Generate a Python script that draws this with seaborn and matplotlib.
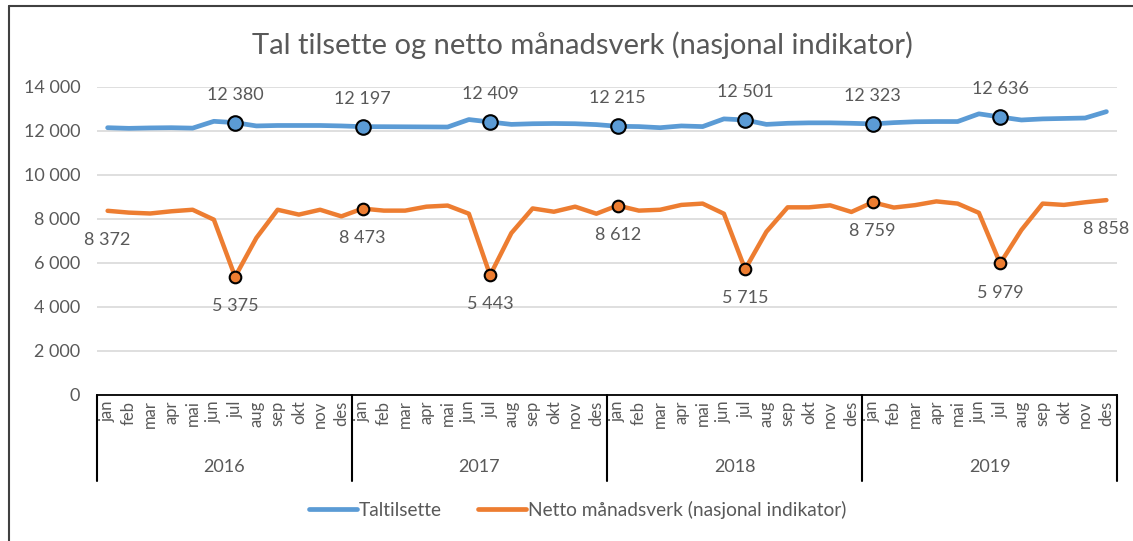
import matplotlib
matplotlib.use('Agg')
import matplotlib.pyplot as plt
import seaborn as sns
import pandas as pd
from matplotlib.lines import Line2D


years = ['2016', '2017', '2018', '2019']
months = ['jan', 'feb', 'mar', 'apr', 'mai', 'jun', 'jul', 'aug', 'sep', 'okt', 'nov', 'des']

taltilsette = [12150, 12120, 12140, 12150, 12130, 12440, 12380, 12230, 12250, 12250, 12250, 12230,
               12197, 12195, 12190, 12185, 12180, 12520, 12409, 12300, 12330, 12340, 12330, 12290,
               12215, 12200, 12150, 12230, 12200, 12550, 12501, 12300, 12350, 12370, 12370, 12350,
               12323, 12380, 12420, 12430, 12430, 12780, 12636, 12500, 12550, 12570, 12590, 12880]

netto = [8372, 8290, 8250, 8350, 8420, 7970, 5375, 7140, 8420, 8200, 8420, 8120,
         8473, 8380, 8380, 8560, 8610, 8240, 5443, 7360, 8480, 8330, 8560, 8240,
         8612, 8380, 8420, 8640, 8700, 8240, 5715, 7420, 8530, 8530, 8620, 8320,
         8759, 8520, 8630, 8800, 8700, 8280, 5979, 7500, 8700, 8640, 8760, 8858]

# which points get a marker / a data label
blue_marked = [6, 12, 18, 24, 30, 36, 42]
orange_marked = [6, 12, 18, 24, 30, 36, 42]
orange_labelled = [0, 6, 12, 18, 24, 30, 36, 42, 47]

blue = '#5B9BD5'
orange = '#ED7D31'
grey_text = '#595959'

n = len(years) * len(months)
df = pd.DataFrame({
    'idx': list(range(n)),
    'Taltilsette': taltilsette,
    'Netto': netto,
})

sns.set_style('white')
plt.rcParams['font.family'] = ['Lato', 'DejaVu Sans']

fig = plt.figure(figsize=(11.33, 5.41), dpi=100)
ax = fig.add_axes([0.0856, 0.2699, 0.9003, 0.5693])

sns.lineplot(data=df, x='idx', y='Taltilsette', ax=ax, color=blue, linewidth=3.4)
sns.lineplot(data=df, x='idx', y='Netto', ax=ax, color=orange, linewidth=3.2)

sns.scatterplot(data=df.iloc[blue_marked], x='idx', y='Taltilsette', ax=ax, color=blue,
                s=110, edgecolor='black', linewidth=1.5, zorder=5)
sns.scatterplot(data=df.iloc[orange_marked], x='idx', y='Netto', ax=ax, color=orange,
                s=70, edgecolor='black', linewidth=1.5, zorder=5)


def fmt(v):
    return f'{v:,}'.replace(',', ' ')


for i in blue_marked:
    ax.annotate(fmt(taltilsette[i]), (i, taltilsette[i]), xytext=(0, 20), textcoords='offset points',
                ha='center', va='center', fontsize=13, color=grey_text)
for i in orange_labelled:
    ax.annotate(fmt(netto[i]), (i, netto[i]), xytext=(0, -21), textcoords='offset points',
                ha='center', va='center', fontsize=13, color=grey_text)

ax.set_xlim(-0.5, n - 0.5)
ax.set_ylim(0, 14000)
ax.set_yticks(range(0, 14001, 2000))
ax.set_yticklabels([fmt(v) for v in range(0, 14001, 2000)], fontsize=13, color=grey_text)
ax.tick_params(axis='y', length=0, pad=12)
ax.yaxis.grid(True, color='#d9d9d9', linewidth=1.2)
ax.set_axisbelow(True)

ax.set_xticks(range(n))
ax.set_xticklabels(months * len(years), rotation=90, fontsize=12, color=grey_text)
ax.tick_params(axis='x', length=0, pad=4)
ax.set_xlabel('')
ax.set_ylabel('')

for side in ['left', 'right', 'top']:
    ax.spines[side].set_visible(False)
ax.spines['bottom'].set_color('black')
ax.spines['bottom'].set_linewidth(1.3)

# multi-level category axis: year dividers and labels
trans = ax.get_xaxis_transform()
for b in range(len(years) + 1):
    x = b * 12 - 0.5
    ax.plot([x, x], [0, -0.279], transform=trans, color='black', linewidth=1.5, clip_on=False)
for k, yr in enumerate(years):
    ax.text(k * 12 + 5.5, -0.234, yr, transform=trans, ha='center', va='center',
            fontsize=13, color=grey_text)

fig.text(0.514, 0.917, 'Tal tilsette og netto månadsverk (nasjonal indikator)',
         ha='center', va='center', fontsize=21, color=grey_text)

handles = [Line2D([0], [0], color=blue, linewidth=3.4),
           Line2D([0], [0], color=orange, linewidth=3.4)]
fig.legend(handles, ['Taltilsette', 'Netto månadsverk (nasjonal indikator)'],
           loc='center', bbox_to_anchor=(0.51, 0.057), ncol=2, frameon=False,
           fontsize=13.8, labelcolor=grey_text, handlelength=2.5, handletextpad=0.1,
           columnspacing=1.9)

# chart frame (top and left edges visible)
fig.add_artist(Line2D([9 / 1133, 1], [1 - 6 / 541, 1 - 6 / 541], color='#404040', linewidth=1.5))
fig.add_artist(Line2D([9 / 1133, 9 / 1133], [0, 1 - 6 / 541], color='#404040', linewidth=1.5))

fig.savefig('out.png', dpi=100)
